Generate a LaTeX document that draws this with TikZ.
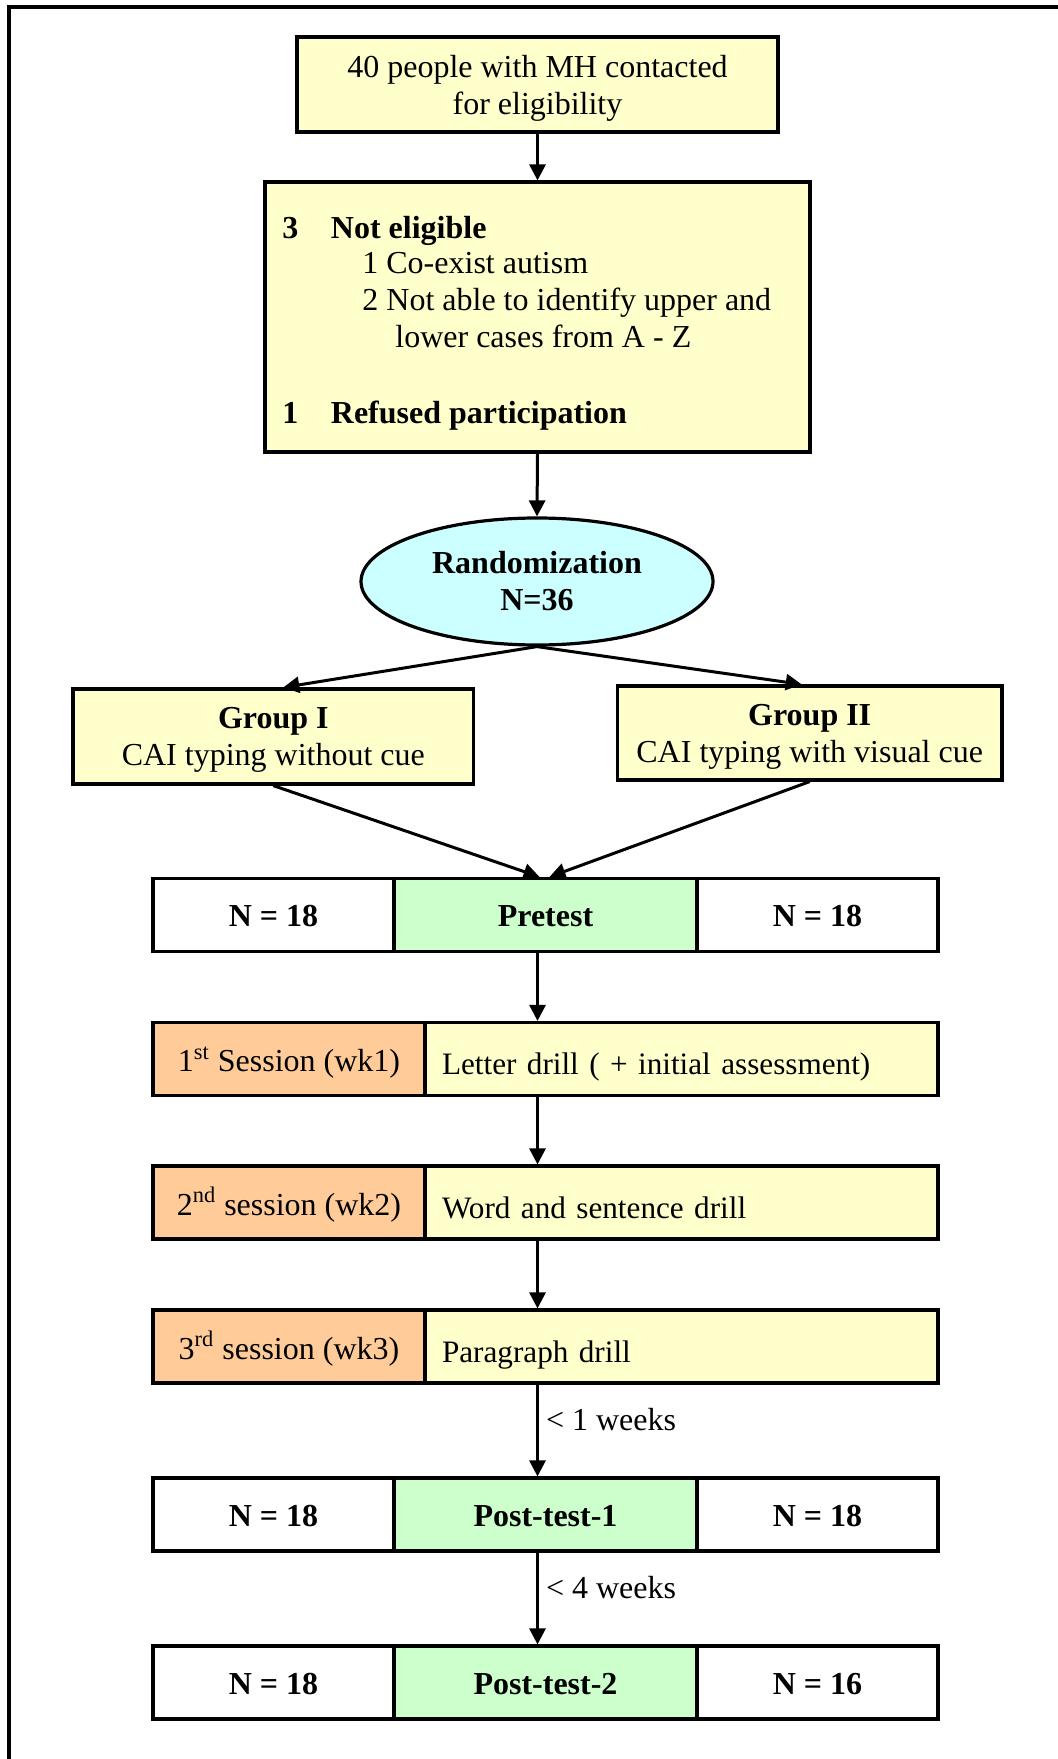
\documentclass[tikz,border=0pt]{standalone}
\usepackage{fontspec}
\setmainfont{Liberation Serif}
\usetikzlibrary{shapes.geometric,arrows.meta}
\definecolor{boxyellow}{HTML}{FFFFCC}
\definecolor{boxcyan}{HTML}{CCFFFF}
\definecolor{boxgreen}{HTML}{CCFFCC}
\definecolor{boxorange}{HTML}{FFCC99}
\begin{document}
\begin{tikzpicture}[x=0.5pt,y=-0.5pt,
  font=\fontsize{16}{18.5}\selectfont,
  box/.style={draw, line width=1.6pt, inner sep=0pt, align=center},
  ybox/.style={box, fill=boxyellow},
  cell/.style={box, minimum height=36.5pt},
  cellside/.style={cell, fill=white, minimum width=120.5pt, text height=11.7pt, text depth=0pt,
    font=\fontsize{16}{18.5}\selectfont\bfseries},
  cellmid/.style={cell, fill=boxgreen, minimum width=151.5pt, text height=11.7pt, text depth=0pt,
    font=\fontsize{16}{18.5}\selectfont\bfseries},
  sessl/.style={cell, fill=boxorange, minimum width=136pt, text height=12.9pt, text depth=0pt},
  sessr/.style={cell, fill=boxyellow, minimum width=256.5pt, text width=239.5pt, align=left,
    inner xsep=8.5pt, text height=15.5pt, text depth=0pt, font=\fontsize{15.6}{18.5}\selectfont},
  txt/.style={anchor=base west, inner sep=0pt},
  arr/.style={line width=1.5pt, -{Triangle[length=8pt,width=8pt]}},
  lbl/.style={anchor=west, inner xsep=3.5pt, inner ysep=0pt}]
\useasboundingbox (0,0) rectangle (1058,1759);
% frame
\draw[line width=2pt] (9,1759) -- (9,7.5) -- (1058,7.5);

% top boxes
\node[ybox, minimum width=240.5pt, minimum height=47.5pt, text depth=0pt] (b1) at (537.5,84.5)
  {40 people with MH contacted\\for eligibility};
\node[ybox, minimum width=272.5pt, minimum height=135pt] (b2) at (537.5,317) {};
\node[txt] (n3) at (282,238.5) {\textbf{3}};
\node[txt] (ne) at (330.5,238.5) {\textbf{Not eligible}};
\node[txt] (ca) at (362,274) {1 Co-exist autism};
\node[txt] (na) at (362,310.5) {2 Not able to identify upper and};
\node[txt] (lc) at (395,347.5) {lower cases from A - Z};
\node[txt] (n1) at (282,423) {\textbf{1}};
\node[txt] (rp) at (330.5,423) {\textbf{Refused participation}};

% randomization
\node[draw, ellipse, line width=1.6pt, fill=boxcyan, minimum width=176pt, minimum height=63.5pt,
  inner sep=0pt, align=center] (ell) at (537,581.5) {\textbf{Randomization}\\\textbf{N=36}};

% groups
\node[ybox, minimum width=200.4pt, minimum height=47.5pt, text depth=0pt] (g1) at (273.3,736.5)
  {\textbf{Group I}\\CAI typing without cue};
\node[ybox, minimum width=192.3pt, minimum height=47pt, text depth=0pt] (g2) at (809.7,733)
  {\textbf{Group II}\\CAI typing with visual cue};

% pretest row
\node[cellside] (preL) at (273.5,915) {N = 18};
\node[cellmid] (pre) at (545.5,915) {Pretest};
\node[cellside] (preR) at (817.5,915) {N = 18};

% sessions
\node[sessl] (s1L) at (289,1059) {1\textsuperscript{st} Session (wk1)};
\node[sessr] (s1R) at (681.5,1059) {Letter drill ( + initial assessment)};
\node[sessl] (s2L) at (289,1202.5) {2\textsuperscript{nd} session (wk2)};
\node[sessr] (s2R) at (681.5,1202.5) {Word and sentence drill};
\node[sessl] (s3L) at (289,1346.5) {3\textsuperscript{rd} session (wk3)};
\node[sessr] (s3R) at (681.5,1346.5) {Paragraph drill};

% post-test rows
\node[cellside] (p1L) at (273.5,1514.5) {N = 18};
\node[cellmid] (p1) at (545.5,1514.5) {Post-test-1};
\node[cellside] (p1R) at (817.5,1514.5) {N = 18};
\node[cellside] (p2L) at (273.5,1682.5) {N = 18};
\node[cellmid] (p2) at (545.5,1682.5) {Post-test-2};
\node[cellside] (p2R) at (817.5,1682.5) {N = 16};

% connectors
\draw[arr] (b1.south) -- (b2.north);
\draw[arr] (b2.south) -- (ell.north);
\draw[arr] (ell.south) -- ([xshift=5pt]g1.north);
\draw[arr] (ell.south) -- ([xshift=-4pt]g2.north);
\draw[arr] (g1.south) -- ([xshift=-3pt]pre.north);
\draw[arr] (g2.south) -- ([xshift=2pt]pre.north);
\draw[arr] (pre.south -| b1.south) -- (s1R.north -| b1.south);
\draw[arr] (s1R.south -| b1.south) -- (s2R.north -| b1.south);
\draw[arr] (s2R.south -| b1.south) -- (s3R.north -| b1.south);
\draw[arr] (s3R.south -| b1.south) -- node[lbl, pos=0.38] (w1) {\textless{} 1 weeks} (p1.north -| b1.south);
\draw[arr] (p1.south -| b1.south) -- node[lbl, pos=0.38] (w4) {\textless{} 4 weeks} (p2.north -| b1.south);
\end{tikzpicture}
\end{document}
